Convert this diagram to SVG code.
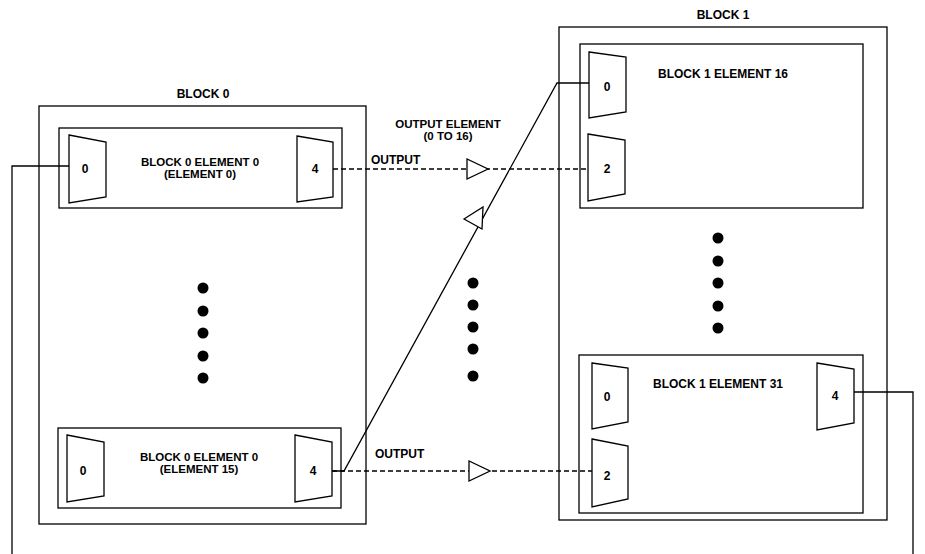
<svg xmlns="http://www.w3.org/2000/svg" width="925" height="554" viewBox="0 0 925 554">
<style>
.box{fill:none;stroke:#000;stroke-width:1.3}
.mux{fill:#fff;stroke:#000;stroke-width:1.3;stroke-linejoin:miter}
.t{font-family:"Liberation Sans",Arial,sans-serif;font-weight:bold;font-size:12px;fill:#000;text-anchor:middle}
.t2{font-family:"Liberation Sans",Arial,sans-serif;font-weight:bold;font-size:11.5px;fill:#000;text-anchor:middle}
.tl{font-family:"Liberation Sans",Arial,sans-serif;font-weight:bold;font-size:12px;fill:#000}
.w{fill:none;stroke:#000;stroke-width:1.3}
.d{fill:none;stroke:#000;stroke-width:1.3;stroke-dasharray:5,3}
.buf{fill:#fff;stroke:#000;stroke-width:1.3}
.dot{fill:#000}
</style>
<rect width="925" height="554" fill="#fff"/>

<g id="connectors">
<polyline class="w" points="69,166 12,166 12,554"/>
<polyline class="w" points="854,392 913,392 913,554"/>
<line class="d" x1="333" y1="169" x2="588" y2="169"/>
<line class="d" x1="332" y1="471" x2="592" y2="471"/>
<polyline class="w" points="332,471 344,471 557,83 589,83"/>
<polygon class="buf" points="467,159 467,179 488,169"/>
<polygon class="buf" points="469,461 469,481 490,471"/>
<polygon class="buf" points="464,219 483,207 482,229"/>
<text class="tl" x="371" y="164">OUTPUT</text>
<text class="tl" x="375" y="458">OUTPUT</text>
<text class="t2" x="448" y="128">OUTPUT ELEMENT</text>
<text class="t2" x="448" y="140">(0 TO 16)</text>
</g>

<g id="block0">
<rect class="box" x="39" y="106" width="327" height="418"/>
<text class="t" x="203" y="98">BLOCK 0</text>
<circle class="dot" cx="203" cy="288" r="5.5"/>
<circle class="dot" cx="203" cy="311" r="5.5"/>
<circle class="dot" cx="203" cy="333" r="5.5"/>
<circle class="dot" cx="203" cy="356" r="5.5"/>
<circle class="dot" cx="203" cy="378" r="5.5"/>
</g>

<g id="b0e0">
<rect class="box" x="59" y="128" width="283" height="80"/>
<polygon class="mux" points="69,135 106,142 106,197 69,203"/>
<polygon class="mux" points="297,136 333,142 333,197 297,202"/>
<text class="t" x="85" y="173">0</text>
<text class="t" x="315" y="173">4</text>
<text class="t2" x="200" y="166">BLOCK 0 ELEMENT 0</text>
<text class="t2" x="200" y="178">(ELEMENT 0)</text>
</g>

<g id="b0e15">
<rect class="box" x="58" y="428" width="283" height="80"/>
<polygon class="mux" points="67,435 104,442 104,496 67,502"/>
<polygon class="mux" points="295,435 332,442 332,496 295,502"/>
<text class="t" x="83" y="475">0</text>
<text class="t" x="313" y="475">4</text>
<text class="t2" x="199" y="461">BLOCK 0 ELEMENT 0</text>
<text class="t2" x="199" y="473">(ELEMENT 15)</text>
</g>

<g id="middots">
<circle class="dot" cx="473" cy="283" r="5.5"/>
<circle class="dot" cx="473" cy="305" r="5.5"/>
<circle class="dot" cx="473" cy="327" r="5.5"/>
<circle class="dot" cx="473" cy="349" r="5.5"/>
<circle class="dot" cx="473" cy="376" r="5.5"/>
</g>

<g id="block1">
<rect class="box" x="559" y="27" width="328" height="493"/>
<text class="t" x="723" y="19">BLOCK 1</text>
<circle class="dot" cx="718" cy="238" r="5.5"/>
<circle class="dot" cx="718" cy="261" r="5.5"/>
<circle class="dot" cx="718" cy="283" r="5.5"/>
<circle class="dot" cx="718" cy="306" r="5.5"/>
<circle class="dot" cx="718" cy="328" r="5.5"/>
</g>

<g id="b1e16">
<rect class="box" x="580" y="44" width="283" height="164"/>
<polygon class="mux" points="589,52 626,57 626,112 589,118"/>
<polygon class="mux" points="588,134 625,140 625,194 588,201"/>
<text class="t" x="607" y="91">0</text>
<text class="t" x="607" y="173">2</text>
<text class="t" x="723" y="78">BLOCK 1 ELEMENT 16</text>
</g>

<g id="b1e31">
<rect class="box" x="579" y="355" width="284" height="158"/>
<polygon class="mux" points="592,363 628,368 628,422 592,429"/>
<polygon class="mux" points="592,439 628,446 628,499 592,507"/>
<polygon class="mux" points="817,363 854,369 854,423 817,430"/>
<text class="t" x="607" y="401">0</text>
<text class="t" x="607" y="480">2</text>
<text class="t" x="835" y="400">4</text>
<text class="t" x="718" y="388">BLOCK 1 ELEMENT 31</text>
</g>
</svg>
